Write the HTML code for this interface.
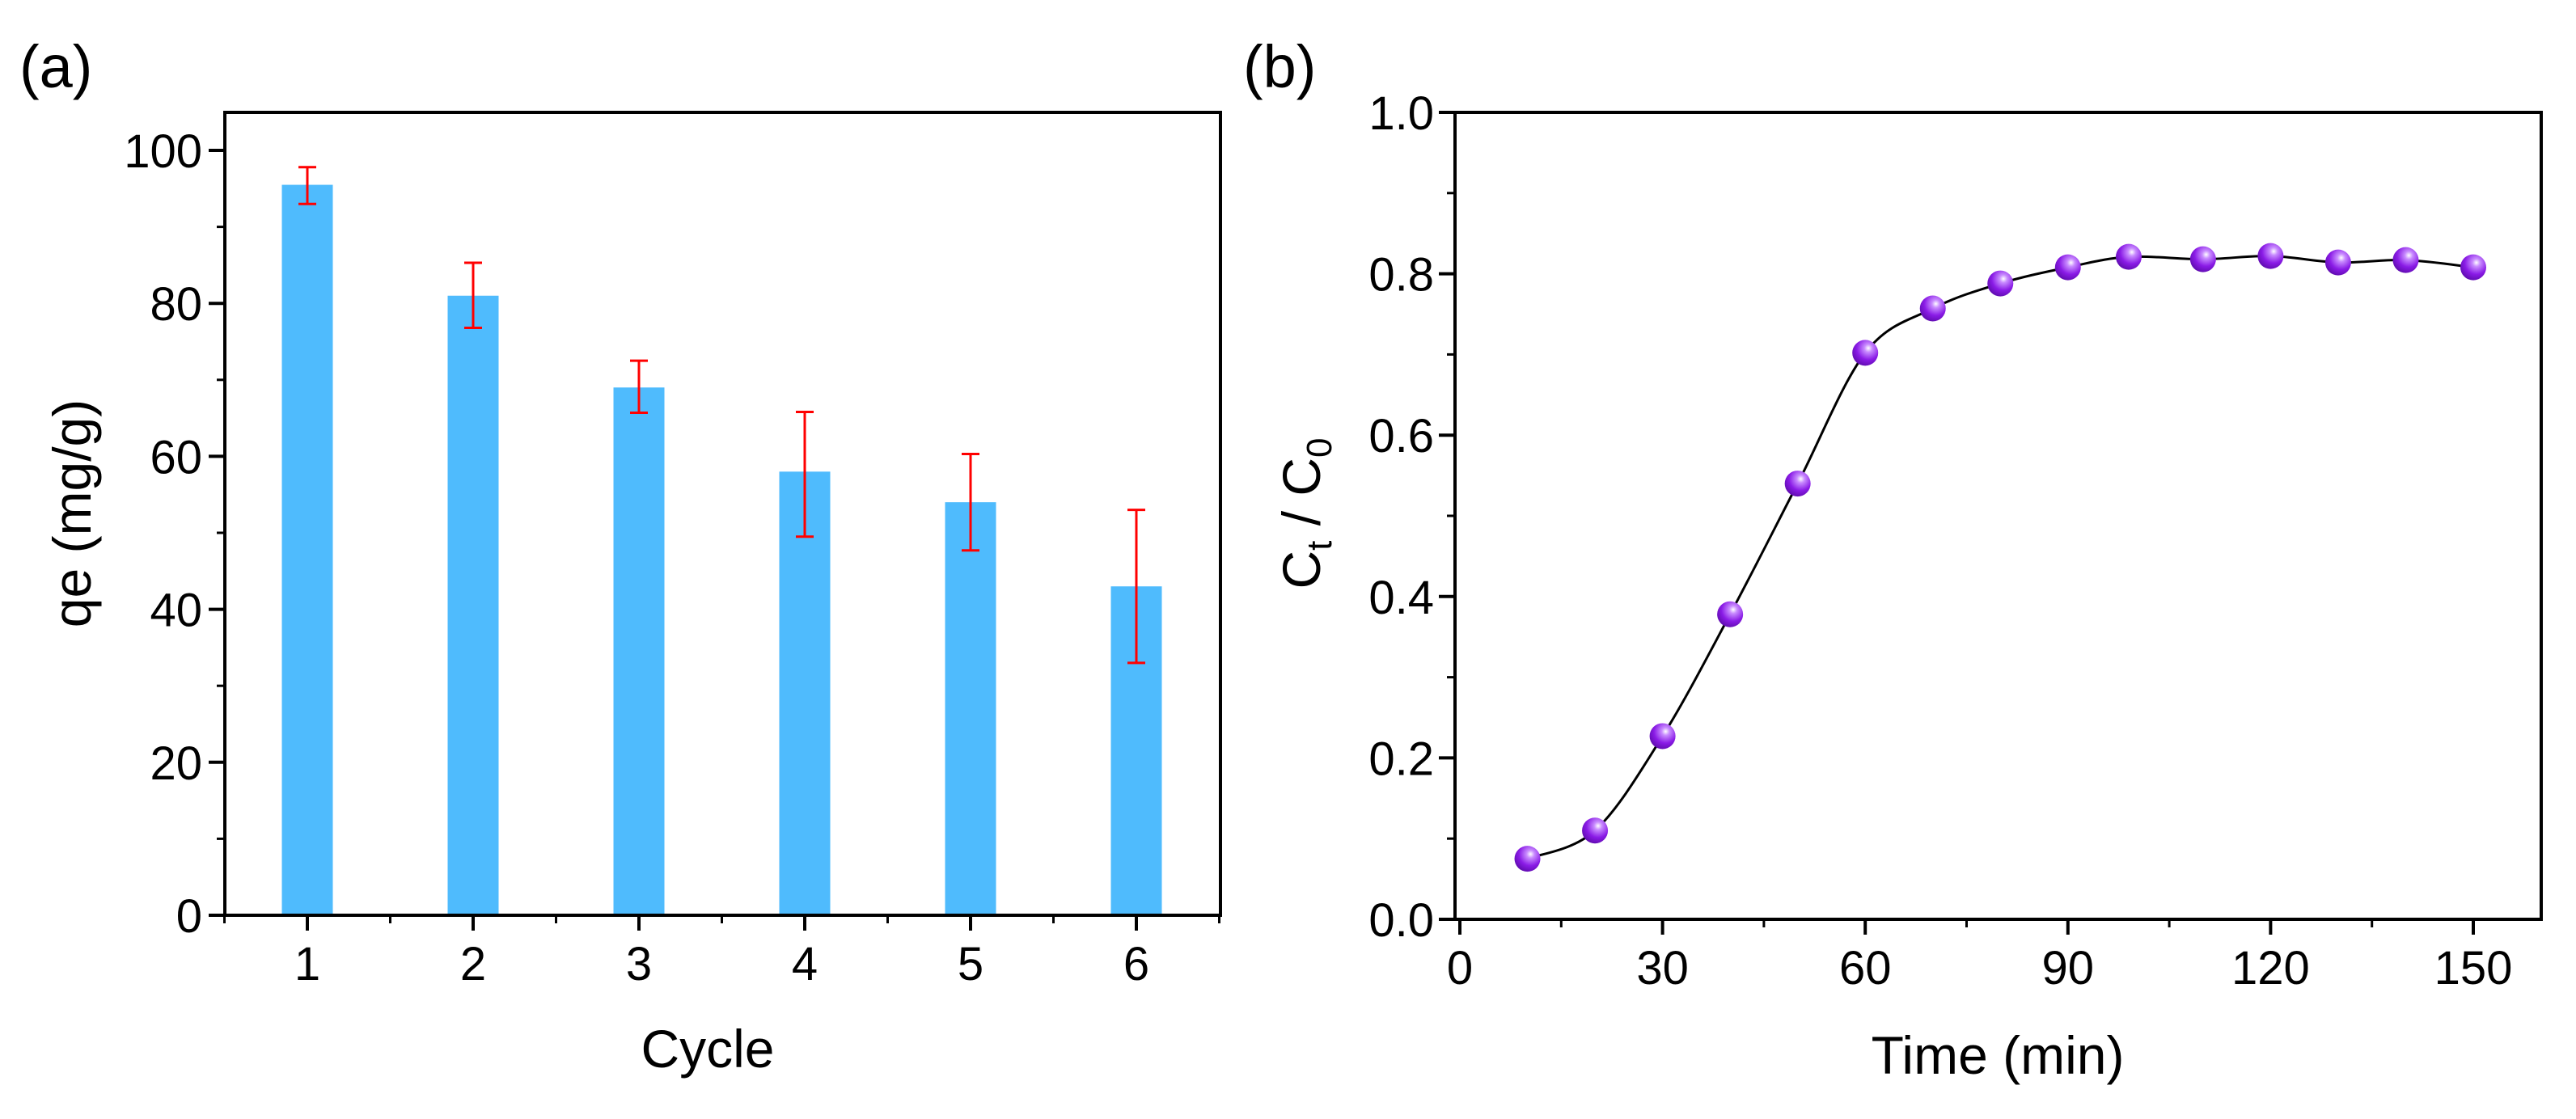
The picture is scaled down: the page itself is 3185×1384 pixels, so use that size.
<!DOCTYPE html>
<html><head><meta charset="utf-8"><style>
html,body{margin:0;padding:0;background:#fff}
svg{display:block;font-family:"Liberation Sans",Arial,sans-serif}
</style></head><body>
<svg id="fig" width="3185" height="1384" viewBox="0 0 3185 1384">
<defs>
<radialGradient id="ball" cx="0.62" cy="0.32" r="0.75">
<stop offset="0" stop-color="#ffffff"/>
<stop offset="0.2" stop-color="#c98cff"/>
<stop offset="0.6" stop-color="#8a1be6"/>
<stop offset="1" stop-color="#5a0aa8"/>
</radialGradient>
</defs>
<g id="pa"></g>
<g id="pb"></g>
</svg>
<script>
// Panel (a) data
const cycles = [1, 2, 3, 4, 5, 6];
const qeValues = [95.5, 81, 69, 58, 54, 43];
const errHigh = [97.8, 85.3, 72.5, 65.8, 60.3, 53];
const errLow = [93, 76.8, 65.7, 49.5, 47.7, 33];
const qeTicks = [0, 20, 40, 60, 80, 100];
// Panel (b) data
const times = [10, 20, 30, 40, 50, 60, 70, 80, 90, 99, 110, 120, 130, 140, 150];
const ratios = [0.075, 0.11, 0.227, 0.378, 0.54, 0.702, 0.757, 0.788, 0.808, 0.821, 0.818, 0.822, 0.814, 0.817, 0.808];
const timeTicks = [0, 30, 60, 90, 120, 150];
const ratioTicks = [0.0, 0.2, 0.4, 0.6, 0.8, 1.0];

const NS = "http://www.w3.org/2000/svg";
function mk(parent, tag, attrs, text) {
  const e = document.createElementNS(NS, tag);
  for (const k in attrs) e.setAttribute(k, attrs[k]);
  if (text !== undefined) e.textContent = text;
  parent.appendChild(e);
  return e;
}

// ---------- Panel A ----------
const pa = document.getElementById('pa');
const A = {l: 278, r: 1509, t: 139, b: 1132};
const ax = c => 380 + (c - 1) * 205;
const ay = v => A.b - v / 100 * (A.b - 186);
const bw = 63;
cycles.forEach((c, i) => {
  const r = mk(pa, 'rect', {x: ax(c) - bw / 2, y: ay(qeValues[i]), width: bw, height: A.b - ay(qeValues[i]), fill: '#4fbbfd'});
  
  
  const g = mk(pa, 'g', {stroke: '#ff0000', 'stroke-width': 3});
  
  
  mk(g, 'line', {x1: ax(c), x2: ax(c), y1: ay(errHigh[i]), y2: ay(errLow[i])});
  mk(g, 'line', {x1: ax(c) - 11, x2: ax(c) + 11, y1: ay(errHigh[i]), y2: ay(errHigh[i])});
  mk(g, 'line', {x1: ax(c) - 11, x2: ax(c) + 11, y1: ay(errLow[i]), y2: ay(errLow[i])});
});
const fa = mk(pa, 'rect', {x: A.l, y: A.t, width: A.r - A.l, height: A.b - A.t, fill: 'none', stroke: '#000', 'stroke-width': 4});


qeTicks.forEach(v => {
  mk(pa, 'line', {x1: A.l - 20, x2: A.l, y1: ay(v), y2: ay(v), stroke: '#000', 'stroke-width': 4});
  const t = mk(pa, 'text', {x: A.l - 28, y: ay(v) + 21, 'text-anchor': 'end', 'font-size': 58}, String(v));
  
  
});
for (let v = 10; v < 105; v += 20) mk(pa, 'line', {x1: A.l - 10, x2: A.l, y1: ay(v), y2: ay(v), stroke: '#000', 'stroke-width': 3});
cycles.forEach(c => {
  mk(pa, 'line', {x1: ax(c), x2: ax(c), y1: A.b, y2: A.b + 19, stroke: '#000', 'stroke-width': 4});
  const t = mk(pa, 'text', {x: ax(c), y: 1212, 'text-anchor': 'middle', 'font-size': 58}, String(c));
  
  
});
for (let c = 0.5; c <= 6.5; c += 1) mk(pa, 'line', {x1: ax(c), x2: ax(c), y1: A.b, y2: A.b + 10, stroke: '#000', 'stroke-width': 3});
let t;
t = mk(pa, 'text', {x: 875, y: 1320, 'text-anchor': 'middle', 'font-size': 66}, 'Cycle');
 
t = mk(pa, 'text', {x: 0, y: 0, 'text-anchor': 'middle', 'font-size': 66, transform: 'translate(112,635) rotate(-90)'}, 'qe (mg/g)');
 
t = mk(pa, 'text', {x: 24, y: 108, 'font-size': 74}, '(a)');
 

// ---------- Panel B ----------
const pb = document.getElementById('pb');
const B = {l: 1799, r: 3142, t: 139, b: 1137};
const bx = v => 1805 + v / 150 * (3058 - 1805);
const by = v => B.b - v * (B.b - B.t);
const fb = mk(pb, 'rect', {x: B.l, y: B.t, width: B.r - B.l, height: B.b - B.t, fill: 'none', stroke: '#000', 'stroke-width': 4});


ratioTicks.forEach(v => {
  mk(pb, 'line', {x1: B.l - 20, x2: B.l, y1: by(v), y2: by(v), stroke: '#000', 'stroke-width': 4});
  const e = mk(pb, 'text', {x: B.l - 26, y: by(v) + 21, 'text-anchor': 'end', 'font-size': 58}, v.toFixed(1));
  
  
});
for (let v = 0.1; v < 1; v += 0.2) mk(pb, 'line', {x1: B.l - 10, x2: B.l, y1: by(v), y2: by(v), stroke: '#000', 'stroke-width': 3});
timeTicks.forEach(v => {
  mk(pb, 'line', {x1: bx(v), x2: bx(v), y1: B.b, y2: B.b + 19, stroke: '#000', 'stroke-width': 4});
  const e = mk(pb, 'text', {x: bx(v), y: 1217, 'text-anchor': 'middle', 'font-size': 58}, String(v));
  
  
});
for (let v = 15; v < 160; v += 30) mk(pb, 'line', {x1: bx(v), x2: bx(v), y1: B.b, y2: B.b + 10, stroke: '#000', 'stroke-width': 3});
// smooth curve (Catmull-Rom)
const P = times.map((x, i) => [bx(x), by(ratios[i])]);
let d = 'M' + P[0][0] + ',' + P[0][1];
for (let i = 0; i < P.length - 1; i++) {
  const p0 = P[Math.max(0, i - 1)], p1 = P[i], p2 = P[i + 1], p3 = P[Math.min(P.length - 1, i + 2)];
  const c1 = [p1[0] + (p2[0] - p0[0]) / 6, p1[1] + (p2[1] - p0[1]) / 6];
  const c2 = [p2[0] - (p3[0] - p1[0]) / 6, p2[1] - (p3[1] - p1[1]) / 6];
  d += ' C' + c1 + ' ' + c2 + ' ' + p2;
}
const ln = mk(pb, 'path', {d: d, fill: 'none', stroke: '#000', 'stroke-width': 3});


times.forEach((x, i) => {
  const c = mk(pb, 'circle', {cx: bx(x), cy: by(ratios[i]), r: 16, fill: 'url(#ball)'});
  
  
});
t = mk(pb, 'text', {x: 2470, y: 1328, 'text-anchor': 'middle', 'font-size': 66}, 'Time (min)');
 
const yt = mk(pb, 'text', {x: 0, y: 0, 'text-anchor': 'middle', 'font-size': 66, transform: 'translate(1632,635) rotate(-90)'});


mk(yt, 'tspan', {}, 'C');
mk(yt, 'tspan', {'font-size': 44, dy: 14}, 't');
mk(yt, 'tspan', {dy: -14}, ' / C');
mk(yt, 'tspan', {'font-size': 44, dy: 14}, '0');
t = mk(pb, 'text', {x: 1537, y: 108, 'font-size': 74}, '(b)');
 
</script>
</body></html>
